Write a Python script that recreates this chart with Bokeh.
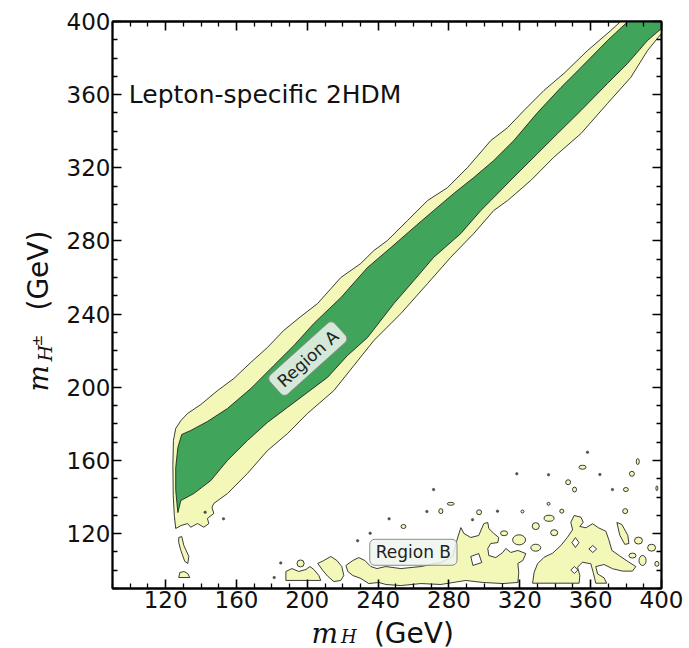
from bokeh.plotting import figure
from bokeh.layouts import row, column
from bokeh.models import (LinearAxis, FixedTicker, Label, CustomJSTickFormatter, Range1d)
from bokeh.embed import file_html
from bokeh.resources import INLINE

# ---- axis ticks (GeV) ----
major_ticks = [120, 160, 200, 240, 280, 320, 360, 400]
minor_ticks = [v for v in range(90, 401, 10) if v not in major_ticks]

# ---- outer (light) allowed region: m_H vs m_H+- band ----
outer_x = [125.7, 124.9, 124.3, 124.1, 124.4, 125.7, 128.6, 132.4, 139.9, 149.3,
           158.5, 168.1, 177.5, 186.7, 196.3, 205.8, 218.9, 230.2, 237.6, 245.3,
           256.6, 267.9, 279.2, 290.5, 303.6, 313.1, 322.3, 333.6, 344.9, 358.2,
           371.4, 377.0, 377.5, 405.0, 405.0, 400.0, 392.1, 382.7, 369.5, 354.5,
           339.2, 326.2, 313.1, 305.3, 294.0, 281.0, 267.9, 252.8, 237.6, 226.3,
           215.0, 200.1, 188.8, 177.5, 166.2, 154.9, 147.2, 146.2, 147.2, 143.6,
           144.4, 141.6, 138.0, 134.2, 132.4, 128.6]
outer_y = [122.8, 129.9, 140.8, 157.2, 170.9, 177.5, 181.8, 185.7, 190.6, 198.2,
           204.8, 213.6, 221.8, 231.1, 238.7, 245.8, 260.0, 267.7, 274.8, 280.3,
           291.2, 302.1, 309.2, 320.2, 334.9, 342.0, 351.3, 362.3, 371.6, 384.1,
           395.1, 400.1, 404.0, 404.0, 393.5, 393.5, 384.1, 369.5, 355.2, 338.7,
           325.8, 313.1, 302.1, 296.7, 284.1, 271.1, 256.7, 240.3, 225.6, 211.9,
           198.2, 185.7, 174.7, 165.4, 152.9, 141.9, 136.5, 134.4, 131.0, 128.3,
           125.5, 123.5, 125.5, 123.5, 125.5, 124.4]

# ---- inner (dark) allowed region ----
inner_x = [126.9, 125.7, 125.7, 126.9, 129.1, 134.2, 143.6, 154.9, 168.1, 181.1,
           192.4, 203.7, 219.0, 234.0, 247.2, 260.2, 271.4, 282.7, 294.0, 305.3,
           316.6, 330.0, 343.2, 354.5, 369.5, 381.0, 381.5, 405.0, 405.0, 400.0,
           392.1, 380.8, 369.5, 354.5, 341.3, 330.0, 316.6, 303.6, 298.0, 286.7,
           271.4, 260.2, 248.9, 234.0, 222.7, 211.4, 200.1, 188.8, 177.5, 166.2,
           154.9, 145.5, 135.9, 128.6]
inner_y = [131.5, 143.6, 156.1, 167.1, 174.2, 176.4, 181.3, 188.4, 199.3, 211.9,
           222.8, 234.9, 249.1, 265.5, 276.4, 287.4, 296.7, 306.0, 314.7, 324.0,
           334.9, 350.2, 363.9, 374.8, 389.6, 400.0, 404.0, 404.0, 396.2, 396.2,
           389.6, 377.0, 366.1, 351.3, 338.7, 327.8, 314.9, 302.1, 296.7, 284.1,
           271.1, 258.4, 245.8, 227.2, 217.4, 205.4, 197.2, 189.0, 180.8, 170.9,
           160.0, 149.0, 141.9, 138.1]

# ---- detached light patches (low m_H+- region and below the band) ----
patch_xs = [
    [127.4, 129.1, 130.3, 133.1, 132.5, 130.8, 128.6, 127.4],
    [127.4, 128.0, 130.3, 132.5, 133.6],
    [187.9, 187.9, 191.3, 195.2, 199.2, 201.5, 203.7, 206.5, 207.6],
    [205.9, 209.3, 213.3, 216.7, 219.5, 220.6, 218.9, 215.0, 211.6, 208.8],
    [221.8, 225.7, 229.1, 232.5, 235.9, 239.3, 244.3, 252.8, 264.1, 275.4,
     282.2, 284.4, 286.7, 288.4, 292.3, 296.8, 299.7, 301.9, 302.5, 305.3,
     308.1, 307.6, 303.6, 301.9, 302.5, 306.4, 310.4, 312.1, 314.9, 318.9,
     323.4, 321.7, 318.9, 319.4, 318.9, 310.4, 299.1, 289.5, 275.4, 264.1,
     252.8, 244.3, 240.4, 234.7, 230.2, 225.7, 222.9],
    [327.2, 328.1, 330.0, 333.7, 338.5, 343.2, 346.9, 349.8, 348.8, 350.7,
     354.5, 355.8, 353.9, 357.3, 361.1, 364.4, 368.6, 370.4, 372.0, 376.1,
     380.8, 385.5, 383.6, 378.0, 372.4, 367.6, 362.9, 363.9, 367.6, 369.0,
     362.9, 361.4, 360.1, 355.4, 352.6, 353.9, 353.5],
    [374.8, 377.6, 381.0, 381.6, 379.3, 376.5],
]
patch_ys = [
    [117.9, 118.4, 113.5, 107.5, 103.7, 104.8, 110.8, 115.1],
    [96.0, 98.7, 99.3, 98.2, 96.0],
    [94.4, 99.3, 100.9, 99.3, 100.4, 102.0, 100.4, 97.1, 94.4],
    [103.7, 105.3, 107.5, 105.3, 102.0, 97.1, 94.4, 93.8, 96.6, 99.8],
    [102.6, 105.3, 106.9, 105.3, 102.0, 100.9, 102.0, 100.9, 102.0, 104.2,
     107.5, 116.2, 123.3, 120.1, 117.9, 119.0, 125.5, 126.1, 122.8, 120.1,
     117.9, 115.1, 114.6, 111.9, 108.0, 106.9, 109.7, 111.9, 109.7, 110.8,
     109.1, 105.3, 103.7, 98.7, 93.3, 92.7, 93.3, 94.4, 92.2, 92.7,
     91.6, 92.2, 93.3, 92.7, 95.5, 97.1, 99.3],
    [92.9, 98.9, 103.5, 107.1, 109.3, 113.5, 118.0, 122.1, 126.2, 129.9,
     129.0, 126.2, 123.9, 123.2, 125.4, 123.2, 121.3, 116.2, 110.8, 108.0,
     104.9, 102.0, 99.5, 99.5, 100.8, 103.1, 102.0, 98.0, 95.8, 92.9,
     92.9, 98.9, 103.5, 104.4, 101.6, 97.1, 92.9],
    [126.1, 125.0, 119.0, 114.6, 114.1, 119.0],
]

# excluded pockets inside the light patches
hole_xs = [
    [292.3, 296.8, 298.5, 293.5],
    [349.4, 351.4, 353.4, 351.4],
    [359.0, 361.2, 363.4, 361.2],
    [348.8, 350.8, 352.8, 350.8],
]
hole_ys = [
    [107.5, 109.1, 104.2, 102.6],
    [115.1, 117.8, 115.1, 112.4],
    [111.6, 113.5, 111.6, 109.7],
    [100.1, 102.0, 100.1, 98.2],
]

# small isolated islands: centre, width, height (GeV)
island_x = [297.0, 321.5, 336.2, 343.7, 336.5, 329.0, 339.4, 329.0, 319.6, 311.1,
            347.3, 350.9, 355.4, 379.9, 383.3, 386.6, 397.4, 379.5, 387.0, 394.4,
            383.6, 389.3, 397.4, 281.0, 275.4, 254.3, 196.2]
island_y = [131.7, 132.1, 136.3, 132.3, 128.4, 124.1, 120.5, 112.3, 116.6, 120.2,
            148.1, 144.1, 156.3, 144.1, 152.7, 159.4, 144.8, 132.3, 116.2, 112.3,
            108.0, 105.3, 103.5, 136.3, 132.3, 123.9, 103.7]
island_w = [2.8, 1.7, 1.7, 2.3, 5.6, 4.0, 4.0, 5.6, 7.3, 4.0,
            2.8, 2.3, 4.0, 2.8, 2.8, 1.7, 1.1, 2.8, 4.5, 4.5,
            4.0, 4.0, 2.3, 4.0, 2.3, 2.8, 4.0]
island_h = [2.7, 1.6, 1.6, 2.2, 3.3, 3.8, 3.3, 3.8, 5.5, 2.7,
            2.7, 2.7, 2.2, 2.2, 2.7, 3.3, 2.7, 2.7, 3.8, 3.8,
            2.7, 5.5, 2.7, 1.6, 2.7, 2.2, 3.8]

# tiny specks
speck_x = [307.4, 293.3, 318.3, 336.2, 358.2, 365.2, 372.3, 271.3, 267.5, 246.2,
           235.5, 228.4, 185.0, 181.3, 152.7, 142.3]
speck_y = [132.3, 127.6, 152.7, 152.2, 164.5, 152.3, 144.1, 144.1, 132.1, 128.1,
           120.2, 116.1, 104.0, 96.0, 128.1, 131.7]

LIGHT = "#f3f7b7"
DARK = "#40a55a"
EDGE = "#1c1c1c"
INK = "#111111"

# ---------------- main panel ----------------
p = figure(width=631, height=617, x_range=(90, 400), y_range=(90, 400),
           output_backend="svg", toolbar_location=None,
           min_border_left=54, min_border_right=28,
           min_border_top=21, min_border_bottom=29,
           background_fill_color="white", border_fill_color="white")
p.grid.visible = False
p.outline_line_color = "black"
p.outline_line_width = 1.8

p.patch(outer_x, outer_y, fill_color=LIGHT, line_color=EDGE, line_width=1, line_alpha=0.85)
p.patch(inner_x, inner_y, fill_color=DARK, line_color=EDGE, line_width=1, line_alpha=0.85)
p.patches(patch_xs, patch_ys, fill_color=LIGHT, line_color=EDGE, line_width=1, line_alpha=0.85)
p.patches(hole_xs, hole_ys, fill_color="white", line_color=EDGE, line_width=1, line_alpha=0.85)
p.ellipse(island_x, island_y, width=island_w, height=island_h,
          fill_color=LIGHT, line_color=EDGE, line_width=1, line_alpha=0.85)
p.scatter(speck_x, speck_y, size=2.5, fill_color="#555555", line_color="#333333",
          line_width=0.5)


def style_axis(ax, show_labels=True):
    ax.ticker = FixedTicker(ticks=major_ticks, minor_ticks=minor_ticks)
    ax.major_tick_in = 9
    ax.major_tick_out = 0
    ax.minor_tick_in = 5
    ax.minor_tick_out = 0
    ax.major_tick_line_width = 1.6
    ax.minor_tick_line_width = 1.3
    ax.major_tick_line_color = "black"
    ax.minor_tick_line_color = "black"
    ax.axis_line_width = 1.8
    ax.axis_line_color = "black"
    ax.major_label_text_font = "DejaVu Sans"
    ax.major_label_text_font_size = "23px"
    ax.major_label_text_color = INK
    ax.major_label_standoff = 2
    if not show_labels:
        ax.formatter = CustomJSTickFormatter(code="return ''")
        ax.major_label_text_font_size = "1px"


style_axis(p.xaxis[0])
style_axis(p.yaxis[0])
right_ax = LinearAxis()
top_ax = LinearAxis()
style_axis(right_ax, False)
style_axis(top_ax, False)
p.add_layout(right_ax, "right")
p.add_layout(top_ax, "above")

p.add_layout(Label(x=99.2, y=360.1, text="Lepton-specific 2HDM",
                   text_font="DejaVu Sans", text_font_size="25px",
                   text_align="left", text_baseline="alphabetic", text_color=INK))

box_style = dict(text_font="DejaVu Sans", text_font_size="17px", text_color="#222222",
                 text_align="center", text_baseline="middle",
                 background_fill_color="#eef4ee", background_fill_alpha=0.85,
                 border_line_color="#8a8a8a", border_line_width=1,
                 border_radius=5, padding=(6, 3))
p.add_layout(Label(x=200.3, y=215.7, text="Region A", angle=42, angle_units="deg", **box_style))
p.add_layout(Label(x=259.9, y=109.8, text="Region B", **box_style))


# ---------------- axis-title strips ----------------
def strip(w, h, xr, yr):
    f = figure(width=w, height=h, x_range=xr, y_range=yr,
               output_backend="svg", toolbar_location=None,
               x_axis_type=None, y_axis_type=None, min_border=0,
               background_fill_color="white", border_fill_color="white")
    f.grid.visible = False
    f.outline_line_color = None
    return f


MATH = "DejaVu Serif"

# bottom strip shares the m_H scale of the main panel; vertical axis in page pixels
xt = strip(631, 31, p.x_range, Range1d(648, 617))
xt.add_layout(Label(x=202.4, y=632.5, text="m", text_font=MATH, text_font_style="italic",
                    text_font_size="28px", text_align="left", text_baseline="alphabetic",
                    text_color=INK))
xt.add_layout(Label(x=219.0, y=636, text="H", text_font=MATH, text_font_style="italic",
                    text_font_size="18px", text_align="left", text_baseline="alphabetic",
                    text_color=INK))
xt.add_layout(Label(x=237.6, y=632.5, text="(GeV)", text_font="DejaVu Sans",
                    text_font_size="28px", text_align="left", text_baseline="alphabetic",
                    text_color=INK))

# left strip, page pixels
yt = strip(58, 648, Range1d(0, 58), Range1d(648, 0))
yt.add_layout(Label(x=38, y=391, text="m", angle=90, angle_units="deg",
                    text_font=MATH, text_font_style="italic", text_font_size="28px",
                    text_align="left", text_baseline="alphabetic", text_color=INK))
yt.add_layout(Label(x=44.5, y=361, text="H", angle=90, angle_units="deg",
                    text_font=MATH, text_font_style="italic", text_font_size="19px",
                    text_align="left", text_baseline="alphabetic", text_color=INK))
yt.add_layout(Label(x=36, y=346, text="±", angle=90, angle_units="deg",
                    text_font="DejaVu Sans", text_font_size="14px",
                    text_align="left", text_baseline="alphabetic", text_color=INK))
yt.add_layout(Label(x=38, y=310, text="(GeV)", angle=90, angle_units="deg",
                    text_font="DejaVu Sans", text_font_size="28px",
                    text_align="left", text_baseline="alphabetic", text_color=INK))

page = row(yt, column(p, xt, spacing=0), spacing=0)

open("out.html", "w").write(file_html(page, INLINE))
